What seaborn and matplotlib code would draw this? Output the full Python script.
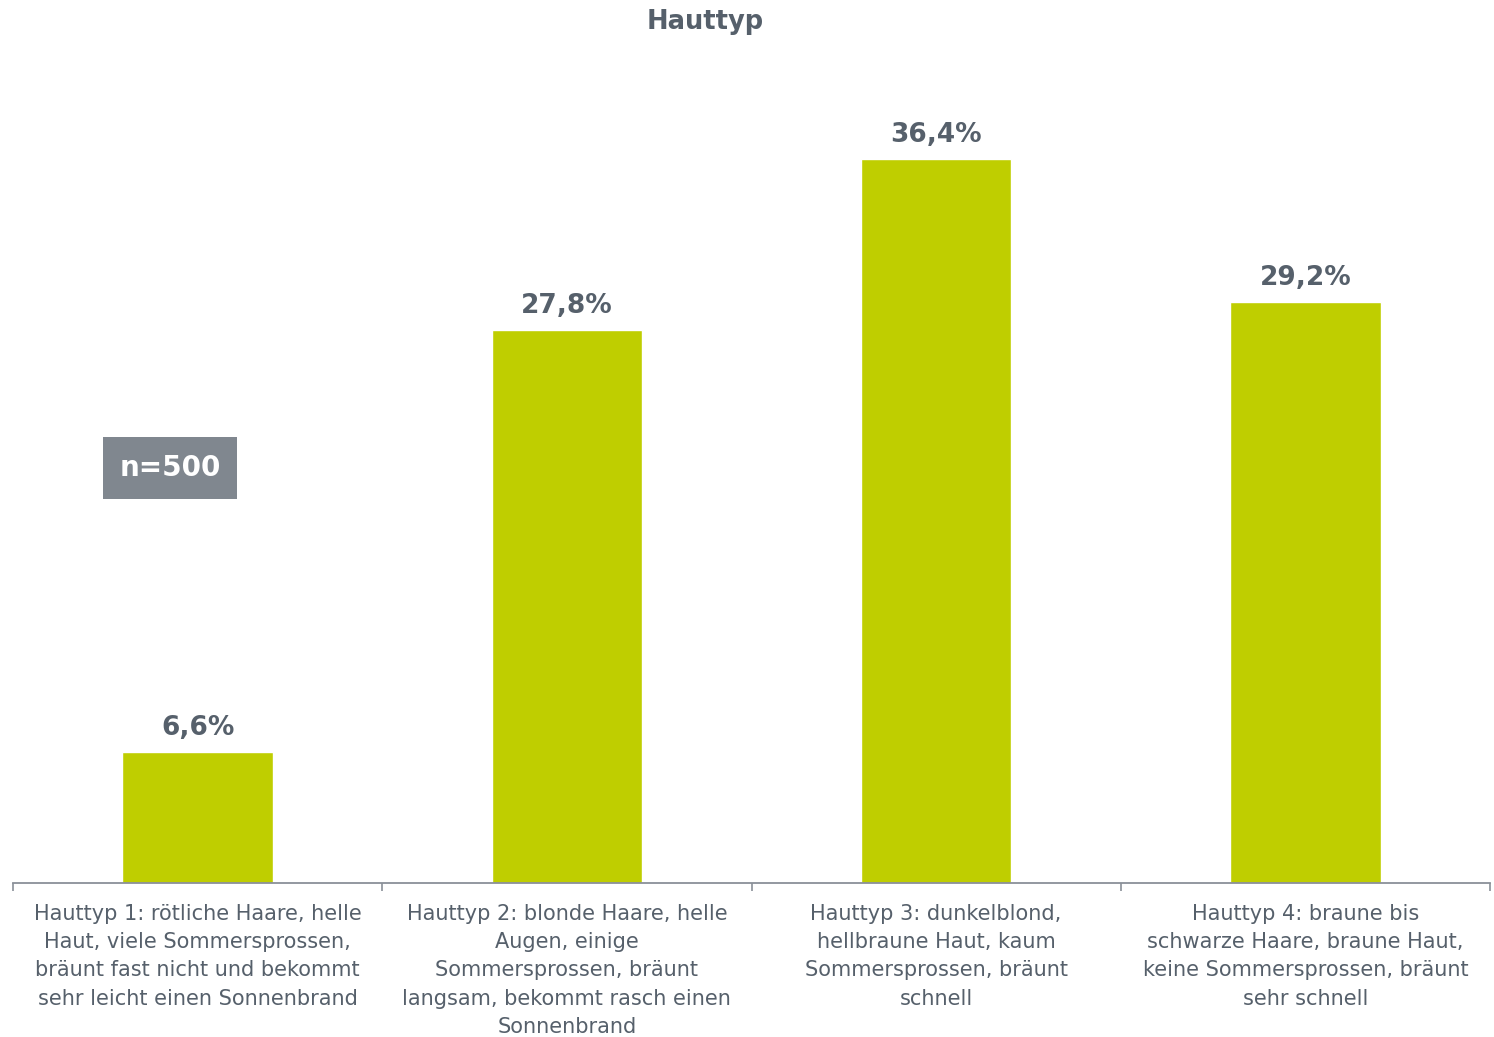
import matplotlib
matplotlib.use("Agg")
import matplotlib.pyplot as plt
import seaborn as sns
import pandas as pd

categories = [
    "Hauttyp 1: rötliche Haare, helle\nHaut, viele Sommersprossen,\nbräunt fast nicht und bekommt\nsehr leicht einen Sonnenbrand",
    "Hauttyp 2: blonde Haare, helle\nAugen, einige\nSommersprossen, bräunt\nlangsam, bekommt rasch einen\nSonnenbrand",
    "Hauttyp 3: dunkelblond,\nhellbraune Haut, kaum\nSommersprossen, bräunt\nschnell",
    "Hauttyp 4: braune bis\nschwarze Haare, braune Haut,\nkeine Sommersprossen, bräunt\nsehr schnell",
]
values = [6.6, 27.8, 36.4, 29.2]
value_labels = ["6,6%", "27,8%", "36,4%", "29,2%"]
title = "Hauttyp"
sample_note = "n=500"

sns.set_theme(style="white")
plt.rcParams["font.family"] = ["DejaVu Sans"]

text_color = "#56606b"
axis_color = "#8a9098"
bar_color = "#bfce00"

df = pd.DataFrame({"Kategorie": categories, "Anteil": values})

fig = plt.figure(figsize=(14.94, 10.37), dpi=100)
ax = fig.add_axes([13 / 1494, 1 - 883 / 1037, 1477 / 1494, (883 - 87) / 1037])

sns.barplot(data=df, x="Kategorie", y="Anteil", color=bar_color, width=0.407,
            saturation=1, ax=ax)

ax.set_ylim(0, 40)
ax.set_xlim(-0.5, len(categories) - 0.5)
ax.set_xlabel("")
ax.set_ylabel("")
ax.set_yticks([])
for side in ["top", "right", "left"]:
    ax.spines[side].set_visible(False)
ax.spines["bottom"].set_color(axis_color)
ax.spines["bottom"].set_linewidth(1.3)

# category labels centred under bars, boundary ticks between categories
ax.set_xticks(range(len(categories)))
ax.set_xticklabels(categories, fontsize=15, color=text_color, linespacing=1.52)
ax.tick_params(axis="x", which="major", length=0, pad=15)
ax.set_xticks([i - 0.5 for i in range(len(categories) + 1)], minor=True)
ax.tick_params(axis="x", which="minor", length=6, width=1.2, color=axis_color,
               direction="out", bottom=True)

for i, (v, lab) in enumerate(zip(values, value_labels)):
    ax.annotate(lab, (i, v), xytext=(0, 8), textcoords="offset points",
                ha="center", va="bottom", fontsize=19, fontweight="bold",
                color=text_color)

fig.text(705 / 1494, 1 - 22 / 1037, title, ha="center", va="center",
         fontsize=18.5, fontweight="bold", color=text_color)

fig.text(170 / 1494, 1 - 468 / 1037, sample_note, ha="center", va="center",
         fontsize=20, fontweight="bold", color="white",
         bbox=dict(boxstyle="square,pad=0.6", facecolor="#80878f",
                   edgecolor="none"))

fig.savefig("out.png", dpi=100, facecolor="white")
